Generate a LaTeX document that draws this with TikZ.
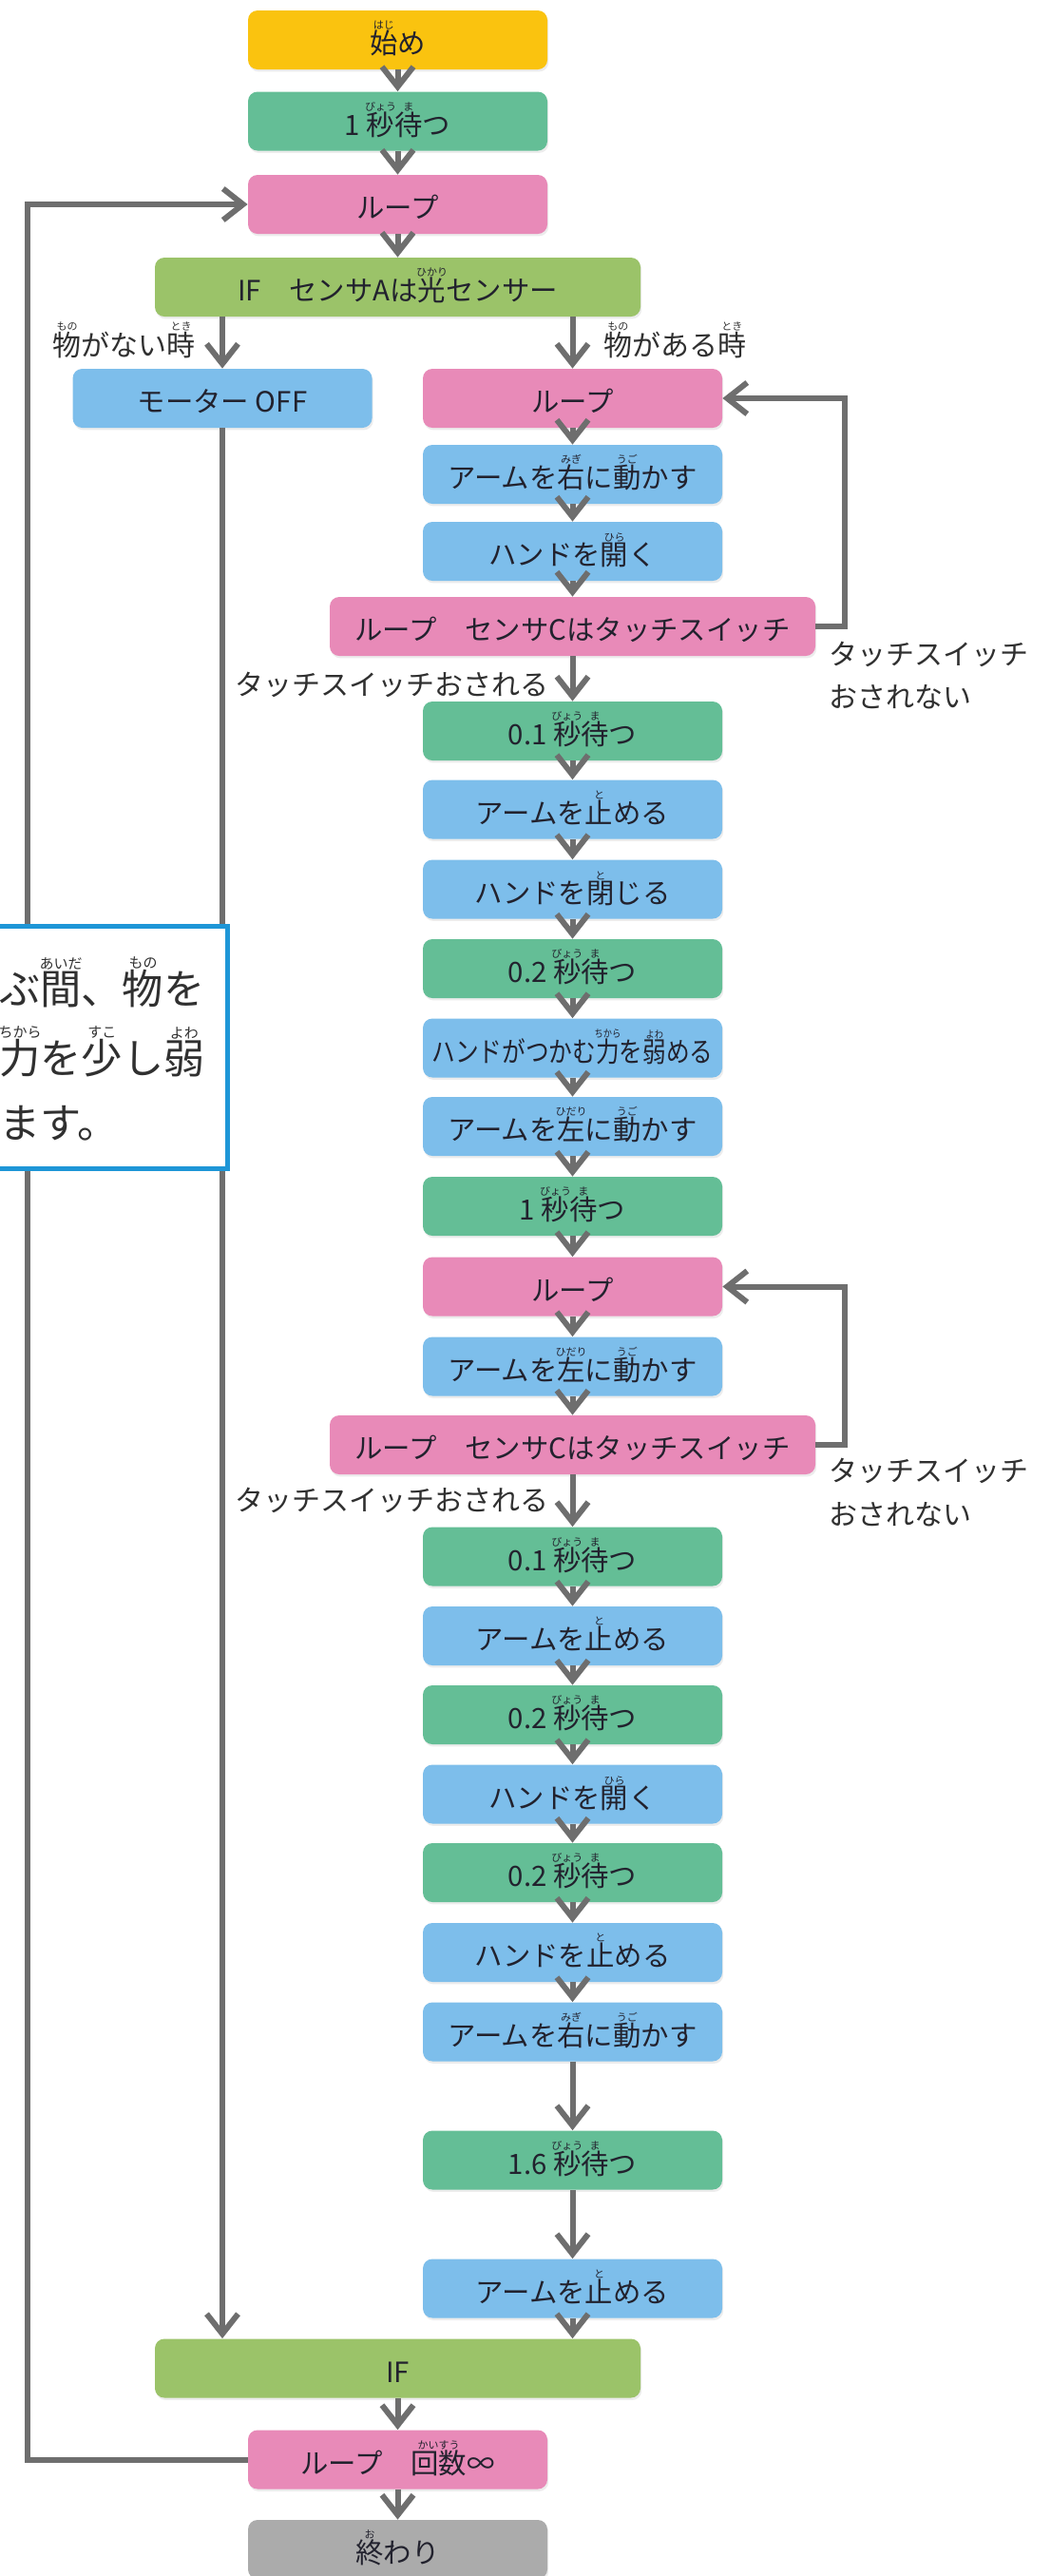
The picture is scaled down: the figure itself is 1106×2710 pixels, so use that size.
\documentclass[tikz,border=0pt]{standalone}
\usepackage{fontspec}
\setmainfont{Noto Sans CJK JP}
\newfontfamily\condfont[FakeStretch=0.84]{Noto Sans CJK JP}
\usetikzlibrary{arrows.meta,shadows}
\definecolor{cYel}{HTML}{FAC30F}
\definecolor{cGrn}{HTML}{64BE96}
\definecolor{cPnk}{HTML}{E88AB8}
\definecolor{cBlu}{HTML}{7DBEEB}
\definecolor{cIf}{HTML}{9BC369}
\definecolor{cGry}{HTML}{ABABAB}
\definecolor{cLine}{HTML}{6E6E6E}
\definecolor{cCall}{HTML}{1E96D7}
\definecolor{cTxt}{HTML}{22222E}
\definecolor{cLbl}{HTML}{303030}
\newcommand\rbfont{\fontsize{5.5pt}{5.5pt}\selectfont}
\newcommand\rb[2]{\leavevmode\setbox0\hbox{#1}\rlap{\raise\dimexpr\ht0+0.8pt\relax\hbox to\wd0{\hss\rbfont #2\hss}}\box0}
\begin{document}
\begin{tikzpicture}[x=0.5pt,y=-0.5pt,
  box/.style={rounded corners=5pt, inner sep=0pt, minimum height=31pt,
    text height=16.3pt, text depth=1.4pt, font=\fontsize{14.7pt}{14.7pt}\selectfont,
    text=cTxt, drop shadow={shadow xshift=0.6pt, shadow yshift=-1.2pt, opacity=0.15}},
  nw/.style={box, minimum width=157.5pt},
  ww/.style={box, minimum width=255.5pt},
  yel/.style={fill=cYel}, grn/.style={fill=cGrn}, pnk/.style={fill=cPnk},
  blu/.style={fill=cBlu}, ifc/.style={fill=cIf}, gry/.style={fill=cGry},
  ln/.style={draw=cLine, line width=3pt},
  arr/.style={ln, -{Straight Barb[length=10.5pt,width=16.5pt]}},
  lbl/.style={inner sep=0pt, font=\fontsize{15pt}{15pt}\selectfont, text=cLbl},
  cotxt/.style={inner sep=0pt, font=\fontsize{21.6pt}{21.6pt}\selectfont, text=cLbl, anchor=base west}
]
\useasboundingbox (0,0) rectangle (1106,2710);
\fill[white] (0,0) rectangle (1106,2710);
\clip (0,0) rectangle (1106,2710);
% top column
\node[nw,yel] (s)   at (418.5,42)    {\rb{始}{はじ}め};
\node[nw,grn] (w1)  at (418.5,127.5) {1 \rb{秒}{びょう}\rb{待}{ま}つ};
\node[nw,pnk] (lp0) at (418.5,215)   {ループ};
\node[ww,ifc] (ifA) at (418.5,302)   {IF\hspace{1em}センサAは\rb{光}{ひかり}センサー};
% left branch
\node[nw,blu] (mot) at (234,419) {モーター OFF};
% right branch
\node[nw,pnk] (lpR1) at (602.5,419)    {ループ};
\node[nw,blu] (a1)   at (602.5,499)    {アームを\rb{右}{みぎ}に\rb{動}{うご}かす};
\node[nw,blu] (h1)   at (602.5,580)    {ハンドを\rb{開}{ひら}く};
\node[ww,pnk] (lc1)  at (602.5,659)    {ループ\hspace{1em}センサCはタッチスイッチ};
\node[nw,grn] (w2)   at (602.5,769)    {0.1 \rb{秒}{びょう}\rb{待}{ま}つ};
\node[nw,blu] (a2)   at (602.5,851.5)  {アームを\rb{止}{と}める};
\node[nw,blu] (h2)   at (602.5,935.5)  {ハンドを\rb{閉}{と}じる};
\node[nw,grn] (w3)   at (602.5,1019)   {0.2 \rb{秒}{びょう}\rb{待}{ま}つ};
\node[nw,blu] (h3)   at (602.5,1102.5) {\condfont ハンドがつかむ\rb{力}{ちから}を\rb{弱}{よわ}める};
\node[nw,blu] (a3)   at (602.5,1185)   {アームを\rb{左}{ひだり}に\rb{動}{うご}かす};
\node[nw,grn] (w4)   at (602.5,1269)   {1 \rb{秒}{びょう}\rb{待}{ま}つ};
\node[nw,pnk] (lpR2) at (602.5,1353.5) {ループ};
\node[nw,blu] (a4)   at (602.5,1437.5) {アームを\rb{左}{ひだり}に\rb{動}{うご}かす};
\node[ww,pnk] (lc2)  at (602.5,1520)   {ループ\hspace{1em}センサCはタッチスイッチ};
\node[nw,grn] (w5)   at (602.5,1637.5) {0.1 \rb{秒}{びょう}\rb{待}{ま}つ};
\node[nw,blu] (a5)   at (602.5,1721)   {アームを\rb{止}{と}める};
\node[nw,grn] (w6)   at (602.5,1804)   {0.2 \rb{秒}{びょう}\rb{待}{ま}つ};
\node[nw,blu] (h4)   at (602.5,1887.5) {ハンドを\rb{開}{ひら}く};
\node[nw,grn] (w7)   at (602.5,1970)   {0.2 \rb{秒}{びょう}\rb{待}{ま}つ};
\node[nw,blu] (h5)   at (602.5,2054)   {ハンドを\rb{止}{と}める};
\node[nw,blu] (a6)   at (602.5,2137.5) {アームを\rb{右}{みぎ}に\rb{動}{うご}かす};
\node[nw,grn] (w8)   at (602.5,2272.5) {1.6 \rb{秒}{びょう}\rb{待}{ま}つ};
\node[nw,blu] (a7)   at (602.5,2407.5) {アームを\rb{止}{と}める};
% bottom
\node[ww,ifc] (if2)   at (418.5,2491.5) {IF};
\node[nw,pnk] (lpInf) at (418.5,2587.5) {ループ\hspace{1em}\rb{回数}{かいすう}∞};
\node[nw,gry] (fin)   at (418.5,2682)   {\rb{終}{お}わり};
% labels
\node[lbl,anchor=base east] (lNo)  at (206,374) {\rb{物}{もの}がない\rb{時}{とき}};
\node[lbl,anchor=base west] (lYes) at (635,374) {\rb{物}{もの}がある\rb{時}{とき}};
\node[lbl,anchor=base east] (lP1)  at (578,731) {タッチスイッチおされる};
\node[lbl,anchor=base west] (lN1a) at (872,699) {タッチスイッチ};
\node[lbl,anchor=base west] (lN1b) at (872,744) {おされない};
\node[lbl,anchor=base east] (lP2)  at (578,1589) {タッチスイッチおされる};
\node[lbl,anchor=base west] (lN2a) at (872,1558) {タッチスイッチ};
\node[lbl,anchor=base west] (lN2b) at (872,1604) {おされない};
% connectors
\coordinate (Lx) at (29,0);
\coordinate (Rx) at (889,0);
\draw[arr] (s) -- (w1);
\draw[arr] (w1) -- (lp0);
\draw[arr] (lp0) -- (ifA);
\draw[arr] (ifA.south -| mot.north) -- (mot.north);
\draw[arr] (ifA.south -| lpR1.north) -- (lpR1.north);
\foreach \a/\b in {lpR1/a1, a1/h1, h1/lc1, lc1/w2, w2/a2, a2/h2, h2/w3, w3/h3, h3/a3, a3/w4, w4/lpR2,
  lpR2/a4, a4/lc2, lc2/w5, w5/a5, a5/w6, w6/h4, h4/w7, w7/h5, h5/a6, a6/w8, w8/a7}
  \draw[arr] (\a) -- (\b);
\draw[arr] (mot.south) -- (if2.north -| mot.south);
\draw[arr] (a7.south) -- (if2.north -| a7.south);
\draw[arr] (if2) -- (lpInf);
\draw[arr] (lpInf) -- (fin);
\draw[arr] (lpInf.west) -- (lpInf.west -| Lx) |- (lp0.west);
\draw[arr] (lc1.east) -- (lc1.east -| Rx) |- (lpR1.east);
\draw[arr] (lc2.east) -- (lc2.east -| Rx) |- (lpR2.east);
% callout
\node[draw=cCall, line width=2.5pt, fill=white, inner sep=0pt, minimum width=150pt,
  minimum height=127.5pt, anchor=north east] (callout) at (242,972) {};
\def\rbfont{\fontsize{7.5pt}{7.5pt}\selectfont}
\node[cotxt] (co1) at (-1,1056) {ぶ\rb{間}{あいだ}、\rb{物}{もの}を};
\node[cotxt] (co2) at (-1,1129) {\rb{力}{ちから}を\rb{少}{すこ}し\rb{弱}{よわ}};
\node[cotxt] (co3) at (-1,1197) {ます。};
\end{tikzpicture}
\end{document}
